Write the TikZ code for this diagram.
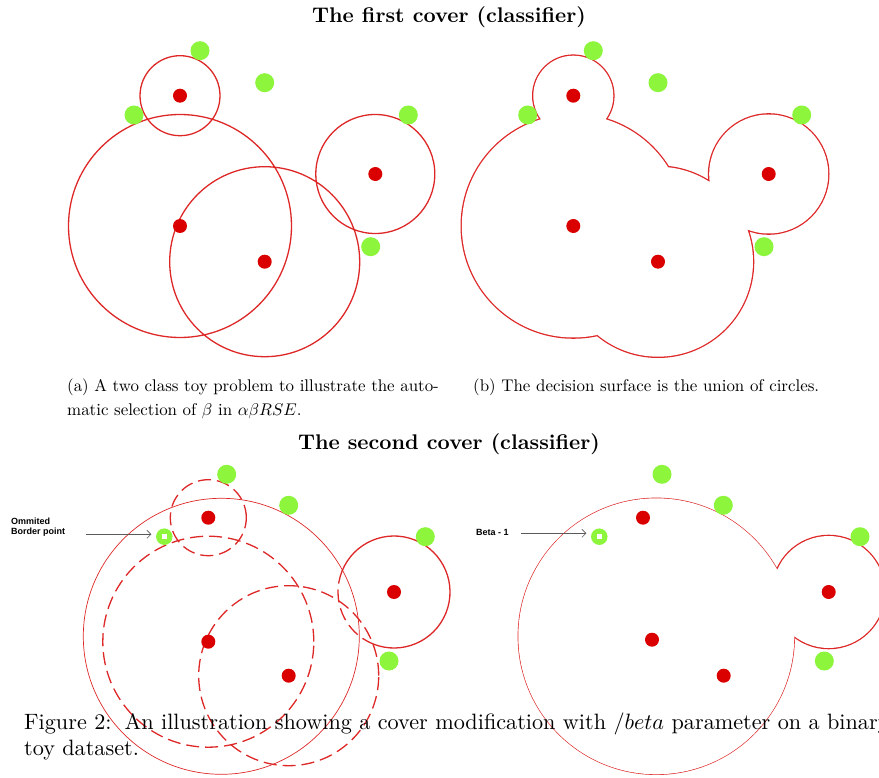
\documentclass[tikz,border=0pt]{standalone}
\usepackage{fontspec}
\newfontfamily\lblfont{Liberation Sans}
\usetikzlibrary{arrows.meta}
\definecolor{dotred}{RGB}{218,0,0}
\definecolor{linered}{RGB}{222,40,40}
\definecolor{dotgreen}{RGB}{140,245,60}
\definecolor{arrowgray}{RGB}{90,90,90}
\begin{document}
\begin{tikzpicture}[x=1pt,y=1pt,
  reddot/.style={circle, fill=dotred, inner sep=0pt, minimum size=14pt},
  greendot/.style={circle, fill=dotgreen, inner sep=0pt, minimum size=19pt},
  hollowdot/.style={circle, fill=dotgreen, inner sep=0pt, minimum size=16.5pt},
  whitesq/.style={rectangle, fill=white, inner sep=0pt, minimum size=5.5pt},
  cover/.style={draw=linered, line width=1.3pt},
  dashcover/.style={draw=linered, line width=1.3pt, dash pattern=on 13pt off 6pt},
  thincover/.style={draw=linered, line width=0.7pt},
  unionstroke/.style={draw=linered, line width=2.6pt},
  pointer/.style={draw=arrowgray, line width=0.6pt, -{Straight Barb[length=4pt,width=8pt]}},
  titlenode/.style={anchor=base, inner sep=0pt, font=\fontsize{10}{12}\selectfont},
  capnode/.style={anchor=base west, inner sep=0pt, font=\fontsize{10}{12}\selectfont},
  lblnode/.style={anchor=base west, inner sep=0pt, font=\lblfont\bfseries\fontsize{9}{10}\selectfont}]
\clip (0,0) rectangle (879,-778);
\fill[white] (0,0) rectangle (879,-778);

% ---------- panel (a)
\coordinate (a1) at (180,-95.7);
\coordinate (a2) at (180,-226);
\coordinate (a3) at (264.7,-261.7);
\coordinate (a4) at (375.3,-174);
\draw[cover] (a1) circle[radius=40pt] (a2) circle[radius=111.5pt]
             (a3) circle[radius=95pt] (a4) circle[radius=59.5pt];
\node[reddot] (ra1) at (a1) {};
\node[reddot] (ra2) at (a2) {};
\node[reddot] (ra3) at (a3) {};
\node[reddot] (ra4) at (a4) {};
\node[greendot] (ga1) at (200,-50.7) {};
\node[greendot] (ga2) at (264.7,-82.7) {};
\node[greendot] (ga3) at (134,-115) {};
\node[greendot] (ga4) at (408.3,-115) {};
\node[greendot] (ga5) at (370.7,-246.7) {};

% ---------- panel (b): union of circles
\coordinate (b1) at (573.3,-95.7);
\coordinate (b2) at (573.3,-226);
\coordinate (b3) at (658,-261.7);
\coordinate (b4) at (768.7,-174);
\draw[unionstroke] (b1) circle[radius=40pt] (b2) circle[radius=111.5pt]
                   (b3) circle[radius=95pt] (b4) circle[radius=59.5pt];
\fill[white] (b1) circle[radius=40pt] (b2) circle[radius=111.5pt]
             (b3) circle[radius=95pt] (b4) circle[radius=59.5pt];
\node[reddot] (rb1) at (b1) {};
\node[reddot] (rb2) at (b2) {};
\node[reddot] (rb3) at (b3) {};
\node[reddot] (rb4) at (b4) {};
\node[greendot] (gb1) at (593.3,-50.7) {};
\node[greendot] (gb2) at (658,-82.7) {};
\node[greendot] (gb3) at (527.7,-115) {};
\node[greendot] (gb4) at (801.7,-115) {};
\node[greendot] (gb5) at (764,-246.7) {};

% ---------- bottom left
\coordinate (c0) at (221.3,-636.3);
\coordinate (c1) at (208.3,-517.7);
\coordinate (c2) at (208.3,-641.7);
\coordinate (c3) at (288.7,-675.7);
\coordinate (c4) at (394,-592);
\draw[thincover] (c0) circle[radius=138pt];
\draw[dashcover] (c1) circle[radius=38pt];
\draw[dashcover] (c2) circle[radius=105.5pt];
\draw[dashcover] (c3) circle[radius=90pt];
\draw[cover] ([shift={(-112:56pt)}]c4) arc[start angle=-112, end angle=158, radius=56pt];
\draw[dashcover] ([shift={(158:56pt)}]c4) arc[start angle=158, end angle=248, radius=56pt];
\node[reddot] (rc1) at (c1) {};
\node[reddot] (rc2) at (c2) {};
\node[reddot] (rc3) at (c3) {};
\node[reddot] (rc4) at (c4) {};
\node[greendot] (gc1) at (226.7,-474.3) {};
\node[greendot] (gc2) at (288.7,-505.3) {};
\node[greendot] (gc3) at (425.3,-536.7) {};
\node[greendot] (gc4) at (389,-661) {};
\node[hollowdot] (hc) at (164.3,-536.7) {};
\node[whitesq] (hcs) at (hc) {};

% ---------- bottom right: union
\coordinate (d0) at (656.3,-636.3);
\coordinate (d4) at (828.7,-592);
\draw[draw=linered, line width=1.3pt] (d0) circle[radius=138pt];
\draw[unionstroke] (d4) circle[radius=56pt];
\fill[white] (d0) circle[radius=138pt] (d4) circle[radius=56pt];
\node[reddot] (rd1) at (643,-517.7) {};
\node[reddot] (rd2) at (652,-639.7) {};
\node[reddot] (rd3) at (723.7,-675.7) {};
\node[reddot] (rd4) at (d4) {};
\node[greendot] (gd1) at (662,-474.3) {};
\node[greendot] (gd2) at (723.3,-505.3) {};
\node[greendot] (gd3) at (860,-536.7) {};
\node[greendot] (gd4) at (824.3,-661) {};
\node[hollowdot] (hd) at (599.3,-536.7) {};
\node[whitesq] (hds) at (hd) {};

% ---------- annotations
\node[lblnode] (om1) at (11,-524.5) {Ommited};
\node[lblnode] (om2) at (11,-534.5) {Border point};
\coordinate (arL) at (86,-534.3);
\draw[pointer, shorten >=4.5pt] (arL) -- (arL -| hc.west);
\node[lblnode] (bt) at (476,-535.5) {Beta - 1};
\coordinate (arR) at (521,-533.3);
\draw[pointer, shorten >=4.5pt] (arR) -- (arR -| hd.west);

% ---------- texts
\node[titlenode] (t1) at (449,-23) {\scalebox{2.12}{\bfseries The first cover (classifier)}};
\node[titlenode] (t2) at (449,-449) {\scalebox{2.12}{\bfseries The second cover (classifier)}};
\node[capnode] (ca1) at (67,-391) {\scalebox{1.69}{(a) A two class toy problem to illustrate the auto-}};
\node[capnode] (ca2) at (67,-415) {\scalebox{1.69}{matic selection of $\beta$ in $\alpha\beta RSE$.}};
\node[capnode] (cb) at (473,-391) {\scalebox{1.69}{(b) The decision surface is the union of circles.}};
\node[capnode] (f1) at (24,-729) {\scalebox{2.22}{Figure 2:\hspace{0.15em} An illustration showing a cover modification with $/beta$ parameter on a binary}};
\node[capnode] (f2) at (24,-755) {\scalebox{2.22}{toy dataset.}};
\end{tikzpicture}
\end{document}
